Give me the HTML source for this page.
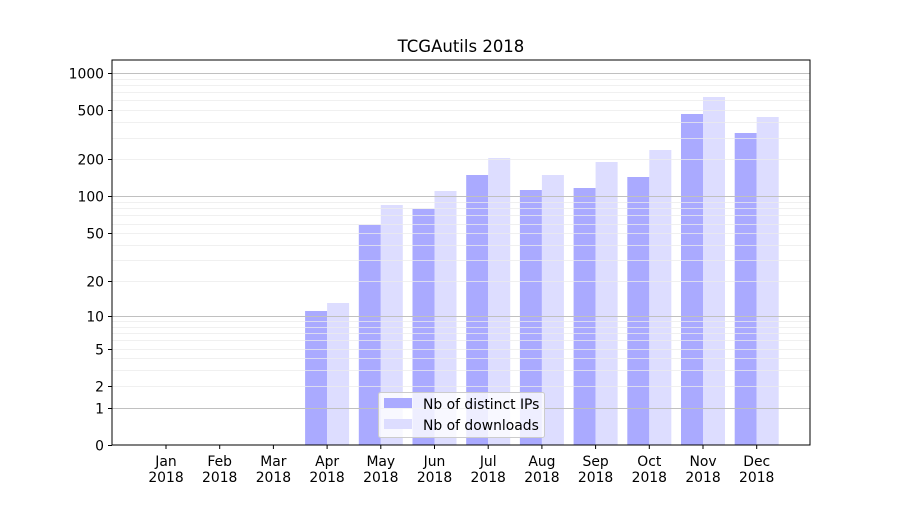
<!DOCTYPE html>
<html><head><meta charset="utf-8"><style>
body{margin:0;background:#fff;}
svg text{font-family:"DejaVu Sans","Liberation Sans",sans-serif;font-size:13.9px;fill:#000;}
</style></head><body>
<svg id="s" width="900" height="500" xmlns="http://www.w3.org/2000/svg">
<rect width="900" height="500" fill="#fff"/>
<g id="bars"></g>
<g id="grid"></g>
<rect x="112" y="60" width="698" height="385" fill="none" stroke="#000" stroke-width="1"/>
<g id="ticks"></g>
<text x="461" y="52" text-anchor="middle" style="font-size:16.5px">TCGAutils 2018</text>
<g>
<rect x="378.5" y="392.5" width="166" height="45" rx="2" fill="#fff" fill-opacity="0.8" stroke="#ccc"/>
<rect x="384" y="398" width="28" height="10" fill="#aaaaff"/>
<rect x="384" y="419" width="28" height="10" fill="#ddddff"/>
<text x="423" y="409">Nb of distinct IPs</text>
<text x="423" y="430">Nb of downloads</text>
</g>
</svg>
<script>
var ns="http://www.w3.org/2000/svg";
function el(p,t,a,txt){var e=document.createElementNS(ns,t);for(var k in a)e.setAttribute(k,a[k]);if(txt!==undefined)e.textContent=txt;document.getElementById(p).appendChild(e);return e;}
function Y(v){return 445-124*Math.log10(1+v);}
for(var d=1;d<=1000;d*=10){for(var k=1;k<10;k++){var v=k*d;if(v>1270)break;var y=Math.round(Y(v))+0.5;
el("grid","line",{x1:112,x2:810,y1:y,y2:y,stroke:k==1?"#c0c0c0":"#ebebeb","stroke-width":k==1?1:0.8});}}
[0,1,2,5,10,20,50,100,200,500,1000].forEach(function(v){var y=Math.round(Y(v))+0.5;
el("ticks","line",{x1:108,x2:112,y1:y,y2:y,stroke:"#000"});
el("ticks","text",{x:104,y:y+5,"text-anchor":"end"},String(v));});
var m=["Jan","Feb","Mar","Apr","May","Jun","Jul","Aug","Sep","Oct","Nov","Dec"];
var ip=[0,0,0,311,225,209,175,190,188,177,114,133];
var dl=[0,0,0,303,205,191,158,175,162,150,97,117];
for(var i=0;i<12;i++){var c=166+i*53.7;
if(ip[i]){el("bars","rect",{x:c-22,y:ip[i],width:22,height:445-ip[i],fill:"#aaaaff"});
el("bars","rect",{x:c,y:dl[i],width:22,height:445-dl[i],fill:"#ddddff"});}
el("ticks","line",{x1:c,x2:c,y1:445,y2:449,stroke:"#000"});
el("ticks","text",{x:c,y:466,"text-anchor":"middle"},m[i]);
el("ticks","text",{x:c,y:482,"text-anchor":"middle"},"2018");}
</script>
</body></html>
